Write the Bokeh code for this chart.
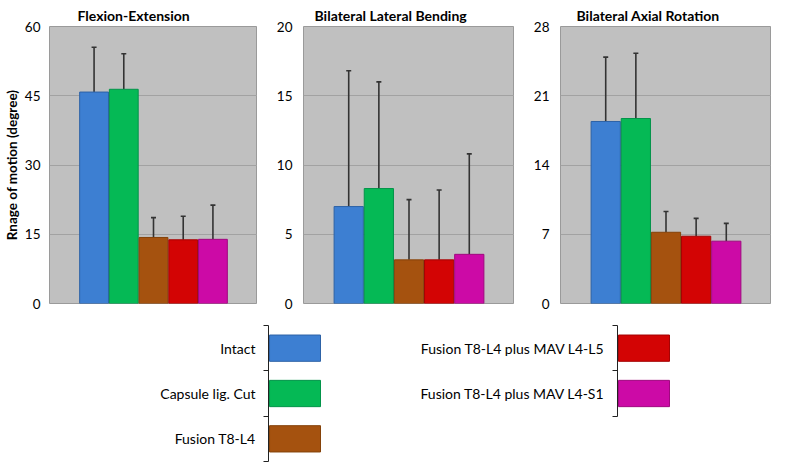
from bokeh.plotting import figure
from bokeh.layouts import row, column
from bokeh.models import (Range1d, FixedTicker, LinearAxis, Whisker, TeeHead,
                          ColumnDataSource, Spacer, Title)
from bokeh.embed import file_html
from bokeh.resources import INLINE

# ---------------- data ----------------
groups = ["Intact", "Capsule lig. Cut", "Fusion T8-L4",
          "Fusion T8-L4 plus MAV L4-L5", "Fusion T8-L4 plus MAV L4-S1"]
colors = ["#3d7fd2", "#05b955", "#a5520f", "#d30404", "#cc0aa6"]
edge_colors = ["#2d62a6", "#03944a", "#854209", "#a50303", "#a0087f"]

panel_titles = ["Flexion-Extension", "Bilateral Lateral Bending", "Bilateral Axial Rotation"]
fe_mean = [45.8, 46.4, 14.3, 13.8, 13.9]
fe_sd = [9.7, 7.7, 4.3, 5.1, 7.4]
lb_mean = [7.0, 8.3, 3.15, 3.15, 3.55]
lb_sd = [9.8, 7.7, 4.35, 5.05, 7.25]
ar_mean = [18.4, 18.7, 7.2, 6.8, 6.3]
ar_sd = [6.5, 6.6, 2.1, 1.8, 1.8]
y_max = [60, 20, 28]
y_ticks = [[0, 15, 30, 45, 60], [0, 5, 10, 15, 20], [0, 7, 14, 21, 28]]
y_label = "Rnage of motion (degree)"

legend_left = groups[:3]
legend_right = groups[3:]

FONT = "Lato"
bar_pos = [1.5, 2.5, 3.5, 4.5, 5.5]

PW, PB_LEFT, PTOP, PBOT = 257, 46, 26, 7
PH = PTOP + 277 + PBOT


def panel(title, means, sds, ymax, ticks, title_offset, with_label):
    p = figure(width=PW, height=PH, x_range=Range1d(0, 7), y_range=Range1d(0, ymax),
               output_backend="svg", toolbar_location=None,
               min_border_left=PB_LEFT, min_border_right=0,
               min_border_top=PTOP, min_border_bottom=PBOT)
    for a in p.below:
        a.visible = False
    # empty, invisible top axis used only as a gap between the title and the plot area
    gap = LinearAxis(ticker=FixedTicker(ticks=[]), axis_line_color=None,
                     major_tick_line_color=None, minor_tick_line_color=None,
                     major_tick_out=6, major_tick_in=0, major_label_standoff=0)
    p.add_layout(gap, "above")
    p.title = Title(text=title, text_font=FONT, text_font_size="14px",
                    text_font_style="bold", align="left", offset=title_offset,
                    vertical_align="top", standoff=2, text_color="black")
    p.background_fill_color = "#c0c0c0"
    p.border_fill_color = "white"
    p.outline_line_color = "#9a9a9a"
    p.xgrid.visible = False
    p.ygrid.ticker = FixedTicker(ticks=ticks)
    p.ygrid.grid_line_color = "#a2a2a2"
    p.ygrid.grid_line_width = 1
    ax = p.yaxis[0]
    ax.ticker = FixedTicker(ticks=ticks)
    ax.axis_line_color = None
    ax.major_tick_line_color = None
    ax.minor_tick_line_color = None
    ax.major_tick_out = 0
    ax.major_tick_in = 0
    ax.major_label_text_font = FONT
    ax.major_label_text_font_size = "13.5px"
    ax.major_label_text_color = "black"
    ax.major_label_standoff = 11 if not with_label else 9
    if with_label:
        ax.axis_label = y_label
        ax.axis_label_text_font = FONT
        ax.axis_label_text_font_size = "13.5px"
        ax.axis_label_text_font_style = "bold"
        ax.axis_label_text_color = "black"
        ax.axis_label_standoff = 2
    src = ColumnDataSource(dict(x=bar_pos, top=means,
                                upper=[m + s for m, s in zip(means, sds)],
                                color=colors, edge=edge_colors))
    p.vbar(x="x", top="top", bottom=0, width=0.97, source=src,
           fill_color="color", line_color="edge", line_width=1)
    w = Whisker(base="x", lower="top", upper="upper", source=src, dimension="height",
                line_color="#333333", line_width=1.6, lower_head=None,
                upper_head=TeeHead(size=5, line_color="#333333", line_width=1.6))
    p.add_layout(w)
    return p


p1 = panel(panel_titles[0], fe_mean, fe_sd, y_max[0], y_ticks[0], 28, True)
p2 = panel(panel_titles[1], lb_mean, lb_sd, y_max[1], y_ticks[1], 11, False)
p3 = panel(panel_titles[2], ar_mean, ar_sd, y_max[2], y_ticks[2], 16, False)

LW, LB_LEFT, LFRAME_W, LTOP, LFRAME_H = 270, 205, 55, 15, 136
LH = LTOP + LFRAME_H + 1
N_SLOTS = 3


def legend_fig(names, cols, edges):
    n = len(names)
    p = figure(width=LW, height=LH, x_range=Range1d(0, LFRAME_W / 52.0),
               y_range=Range1d(N_SLOTS, 0),
               output_backend="svg", toolbar_location=None,
               min_border_left=LB_LEFT, min_border_right=LW - LB_LEFT - LFRAME_W,
               min_border_top=LTOP, min_border_bottom=LH - LTOP - LFRAME_H)
    p.outline_line_color = None
    p.background_fill_color = "white"
    p.border_fill_color = "white"
    p.xaxis.visible = False
    p.grid.visible = False
    ax = p.yaxis[0]
    ax.ticker = FixedTicker(ticks=list(range(n + 1)))
    ax.major_label_overrides = {i: "" for i in range(n + 1)}
    ax.major_label_standoff = 0
    ax.bounds = (0, n)
    ax.axis_line_color = "#222222"
    ax.axis_line_width = 1
    ax.major_tick_line_color = "#222222"
    ax.major_tick_out = 5
    ax.major_tick_in = 0
    ax.minor_tick_line_color = None
    lab = LinearAxis(ticker=FixedTicker(ticks=[i + 0.5 for i in range(n)]),
                     major_label_overrides={i + 0.5: names[i] for i in range(n)},
                     axis_line_color=None, major_tick_line_color=None,
                     major_tick_out=0, major_tick_in=0,
                     minor_tick_line_color=None, major_label_standoff=8,
                     major_label_text_font=FONT, major_label_text_font_size="14px",
                     major_label_text_color="black")
    p.add_layout(lab, "left")
    p.hbar(y=[i + 0.5 for i in range(n)], left=0.02, right=1.0, height=0.58,
           fill_color=cols, line_color=edges, line_width=1)
    return p


lg1 = legend_fig(legend_left, colors[:3], edge_colors[:3])
lg2 = legend_fig(legend_right, colors[3:], edge_colors[3:])

top_row = row(p1, p2, p3, spacing=0)
bottom_row = row(Spacer(width=63, height=LH), lg1, Spacer(width=79, height=LH), lg2, spacing=0)
layout = column(top_row, bottom_row, spacing=0)

open("out.html", "w").write(file_html(layout, INLINE))
